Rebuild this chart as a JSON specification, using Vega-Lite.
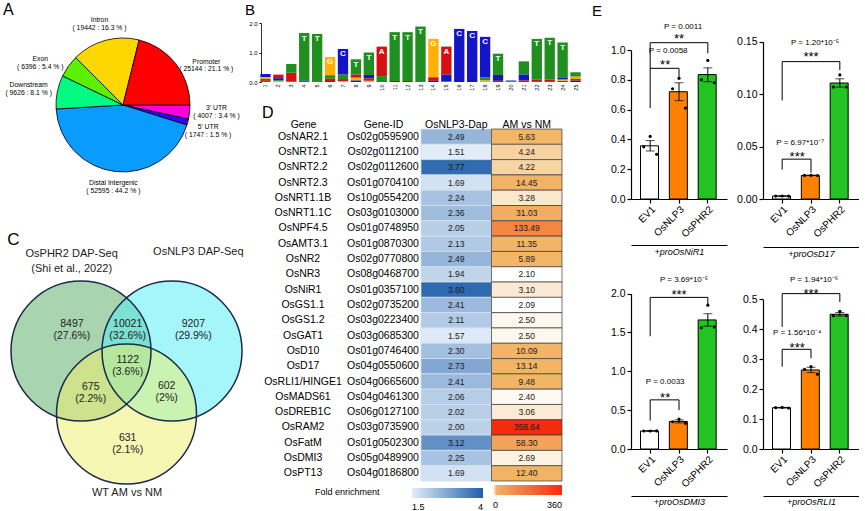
{
"$schema": "https://vega.github.io/schema/vega-lite/v6.json",
"padding": 0,
"background": "#ffffff",
"bounds": "flush",
"spacing": 0,
"resolve": {"scale": {"color": "independent", "fill": "independent"}},
"config": {
 "font": "Liberation Sans",
 "view": {"stroke": null},
 "axis": {"grid": false, "domainColor": "#000", "tickColor": "#000", "labelColor": "#000", "titleColor": "#000", "titleFontWeight": "normal"},
 "title": {"fontSize": 16, "fontWeight": "normal", "anchor": "start", "frame": "group", "color": "#000", "baseline": "top"},
 "text": {"color": "#000"},
 "legend": {"labelColor": "#000", "titleColor": "#000"}
},
"datasets": {
 "pie": [
  {"region": "3' UTR", "n": 4007, "o": 1, "lab": "3' UTR\n( 4007 : 3.4 % )"},
  {"region": "5' UTR", "n": 1747, "o": 2, "lab": "5' UTR\n( 1747 : 1.5 % )"},
  {"region": "Distal Intergenic", "n": 52595, "o": 3, "lab": "Distal Intergenic\n( 52595 : 44.2 % )"},
  {"region": "Downstream", "n": 9626, "o": 4, "lab": "Downstream\n( 9626 : 8.1 % )"},
  {"region": "Exon", "n": 6396, "o": 5, "lab": "Exon\n( 6396 : 5.4 % )"},
  {"region": "Intron", "n": 19442, "o": 6, "lab": "Intron\n( 19442 : 16.3 % )"},
  {"region": "Promoter", "n": 25144, "o": 7, "lab": "Promoter\n( 25144 : 21.1 % )"}
 ],
 "circ": [
  {"set": "PHR2", "cx": -0.65, "cy": 0.3},
  {"set": "NLP3", "cx": 0.65, "cy": 0.3},
  {"set": "AM", "cx": 0, "cy": -0.6}
 ],
 "vlab": [
  {"t": "8497\n(27.6%)", "x": -0.78, "y": 0.685},
  {"t": "10021\n(32.6%)", "x": 0.017, "y": 0.685},
  {"t": "9207\n(29.9%)", "x": 0.954, "y": 0.685},
  {"t": "1122\n(3.6%)", "x": 0.017, "y": 0.167},
  {"t": "675\n(2.2%)", "x": -0.511, "y": -0.21},
  {"t": "602\n(2%)", "x": 0.574, "y": -0.207},
  {"t": "631\n(2.1%)", "x": 0.017, "y": -0.936}
 ],
 "vtitle": [
  {"t": "OsPHR2 DAP-Seq\n(Shi et al., 2022)", "x": -0.783, "y": 1.683},
  {"t": "OsNLP3 DAP-Seq", "x": 1.026, "y": 1.719},
  {"t": "WT AM vs NM", "x": 0.007, "y": -1.729}
 ],
 "logo": [
  {"pos":1,"base":"A","bits":0.06},{"pos":1,"base":"C","bits":0.1},{"pos":1,"base":"G","bits":0.07},{"pos":1,"base":"T","bits":0.04},
  {"pos":2,"base":"A","bits":0.12},{"pos":2,"base":"C","bits":0.07},{"pos":2,"base":"G","bits":0.03},{"pos":2,"base":"T","bits":0.03},
  {"pos":3,"base":"A","bits":0.28},{"pos":3,"base":"T","bits":0.3},{"pos":3,"base":"C","bits":0.02},{"pos":3,"base":"G","bits":0.01},
  {"pos":4,"base":"T","bits":1.62},{"pos":4,"base":"C","bits":0.03},{"pos":4,"base":"A","bits":0.01},
  {"pos":5,"base":"T","bits":1.6},{"pos":5,"base":"C","bits":0.02},{"pos":5,"base":"A","bits":0.01},
  {"pos":6,"base":"G","bits":0.62},{"pos":6,"base":"T","bits":0.12},{"pos":6,"base":"A","bits":0.08},{"pos":6,"base":"C","bits":0.03},
  {"pos":7,"base":"C","bits":0.87},{"pos":7,"base":"T","bits":0.15},{"pos":7,"base":"A","bits":0.07},{"pos":7,"base":"G","bits":0.03},
  {"pos":8,"base":"T","bits":0.52},{"pos":8,"base":"G","bits":0.1},{"pos":8,"base":"A","bits":0.1},{"pos":8,"base":"C","bits":0.05},
  {"pos":9,"base":"T","bits":0.76},{"pos":9,"base":"C","bits":0.12},{"pos":9,"base":"A","bits":0.08},{"pos":9,"base":"G","bits":0.04},
  {"pos":10,"base":"A","bits":1.0},{"pos":10,"base":"T","bits":0.2},
  {"pos":11,"base":"T","bits":1.66},{"pos":11,"base":"C","bits":0.03},
  {"pos":12,"base":"T","bits":1.66},{"pos":12,"base":"C","bits":0.03},
  {"pos":13,"base":"T","bits":1.88},
  {"pos":14,"base":"G","bits":1.3},{"pos":14,"base":"A","bits":0.12},{"pos":14,"base":"C","bits":0.04},
  {"pos":15,"base":"A","bits":0.95},{"pos":15,"base":"C","bits":0.22},{"pos":15,"base":"T","bits":0.03},
  {"pos":16,"base":"C","bits":1.8},
  {"pos":17,"base":"C","bits":1.73},
  {"pos":18,"base":"C","bits":1.38},{"pos":18,"base":"T","bits":0.1},{"pos":18,"base":"G","bits":0.05},
  {"pos":19,"base":"T","bits":0.72},{"pos":19,"base":"C","bits":0.2},{"pos":19,"base":"A","bits":0.04},
  {"pos":20,"base":"C","bits":0.03},{"pos":20,"base":"A","bits":0.02},
  {"pos":21,"base":"T","bits":0.45},{"pos":21,"base":"C","bits":0.2},{"pos":21,"base":"A","bits":0.05},
  {"pos":22,"base":"T","bits":1.38},{"pos":22,"base":"A","bits":0.06},{"pos":22,"base":"C","bits":0.02},
  {"pos":23,"base":"T","bits":1.42},{"pos":23,"base":"A","bits":0.06},{"pos":23,"base":"C","bits":0.02},
  {"pos":24,"base":"T","bits":1.2},{"pos":24,"base":"C","bits":0.06},{"pos":24,"base":"A","bits":0.04},{"pos":24,"base":"G","bits":0.04},
  {"pos":25,"base":"T","bits":0.15},{"pos":25,"base":"G","bits":0.08},{"pos":25,"base":"C","bits":0.05},{"pos":25,"base":"A","bits":0.05}
 ],
 "genes": [
  {"gene":"OsNAR2.1","id":"Os02g0595900","dap":2.49,"am":5.63},
  {"gene":"OsNRT2.1","id":"Os02g0112100","dap":1.51,"am":4.24},
  {"gene":"OsNRT2.2","id":"Os02g0112600","dap":3.77,"am":4.22},
  {"gene":"OsNRT2.3","id":"Os01g0704100","dap":1.69,"am":14.45},
  {"gene":"OsNRT1.1B","id":"Os10g0554200","dap":2.24,"am":3.28},
  {"gene":"OsNRT1.1C","id":"Os03g0103000","dap":2.36,"am":31.03},
  {"gene":"OsNPF4.5","id":"Os01g0748950","dap":2.05,"am":133.49},
  {"gene":"OsAMT3.1","id":"Os01g0870300","dap":2.13,"am":11.35},
  {"gene":"OsNR2","id":"Os02g0770800","dap":2.49,"am":5.89},
  {"gene":"OsNR3","id":"Os08g0468700","dap":1.94,"am":2.10},
  {"gene":"OsNiR1","id":"Os01g0357100","dap":3.80,"am":3.10},
  {"gene":"OsGS1.1","id":"Os02g0735200","dap":2.41,"am":2.09},
  {"gene":"OsGS1.2","id":"Os03g0223400","dap":2.11,"am":2.50},
  {"gene":"OsGAT1","id":"Os03g0685300","dap":1.57,"am":2.50},
  {"gene":"OsD10","id":"Os01g0746400","dap":2.30,"am":10.09},
  {"gene":"OsD17","id":"Os04g0550600","dap":2.73,"am":13.14},
  {"gene":"OsRLI1/HINGE1","id":"Os04g0665600","dap":2.41,"am":9.48},
  {"gene":"OsMADS61","id":"Os04g0461300","dap":2.06,"am":2.40},
  {"gene":"OsDREB1C","id":"Os06g0127100","dap":2.02,"am":3.06},
  {"gene":"OsRAM2","id":"Os03g0735900","dap":2.00,"am":358.64},
  {"gene":"OsFatM","id":"Os01g0502300","dap":3.12,"am":58.30},
  {"gene":"OsDMI3","id":"Os05g0489900","dap":2.25,"am":2.69},
  {"gene":"OsPT13","id":"Os04g0186800","dap":1.69,"am":12.40}
 ],
 "bars": [
  {"p":"NiR1","g":"EV1","m":0.357,"lo":0.322,"hi":0.392},
  {"p":"NiR1","g":"OsNLP3","m":0.72,"lo":0.66,"hi":0.78},
  {"p":"NiR1","g":"OsPHR2","m":0.835,"lo":0.787,"hi":0.88},
  {"p":"D17","g":"EV1","m":0.0028,"lo":0.0026,"hi":0.003},
  {"p":"D17","g":"OsNLP3","m":0.0225,"lo":0.0223,"hi":0.0227},
  {"p":"D17","g":"OsPHR2","m":0.1106,"lo":0.1067,"hi":0.1146},
  {"p":"DMI3","g":"EV1","m":0.232,"lo":0.228,"hi":0.236},
  {"p":"DMI3","g":"OsNLP3","m":0.355,"lo":0.335,"hi":0.375},
  {"p":"DMI3","g":"OsPHR2","m":1.66,"lo":1.58,"hi":1.74},
  {"p":"RLI1","g":"EV1","m":0.138,"lo":0.137,"hi":0.139},
  {"p":"RLI1","g":"OsNLP3","m":0.264,"lo":0.255,"hi":0.273},
  {"p":"RLI1","g":"OsPHR2","m":0.45,"lo":0.444,"hi":0.456}
 ],
 "dots": [
  {"p":"NiR1","g":"EV1","r":1,"v":0.35},{"p":"NiR1","g":"EV1","r":2,"v":0.42},{"p":"NiR1","g":"EV1","r":3,"v":0.30},
  {"p":"NiR1","g":"OsNLP3","r":1,"v":0.74},{"p":"NiR1","g":"OsNLP3","r":2,"v":0.81},{"p":"NiR1","g":"OsNLP3","r":3,"v":0.61},
  {"p":"NiR1","g":"OsPHR2","r":1,"v":0.80},{"p":"NiR1","g":"OsPHR2","r":2,"v":0.93},{"p":"NiR1","g":"OsPHR2","r":3,"v":0.78},
  {"p":"D17","g":"EV1","r":1,"v":0.0028},{"p":"D17","g":"EV1","r":2,"v":0.0029},{"p":"D17","g":"EV1","r":3,"v":0.0027},
  {"p":"D17","g":"OsNLP3","r":1,"v":0.0225},{"p":"D17","g":"OsNLP3","r":2,"v":0.0226},{"p":"D17","g":"OsNLP3","r":3,"v":0.0224},
  {"p":"D17","g":"OsPHR2","r":1,"v":0.1067},{"p":"D17","g":"OsPHR2","r":2,"v":0.1183},{"p":"D17","g":"OsPHR2","r":3,"v":0.1068},
  {"p":"DMI3","g":"EV1","r":1,"v":0.232},{"p":"DMI3","g":"EV1","r":2,"v":0.231},{"p":"DMI3","g":"EV1","r":3,"v":0.233},
  {"p":"DMI3","g":"OsNLP3","r":1,"v":0.35},{"p":"DMI3","g":"OsNLP3","r":2,"v":0.385},{"p":"DMI3","g":"OsNLP3","r":3,"v":0.33},
  {"p":"DMI3","g":"OsPHR2","r":1,"v":1.56},{"p":"DMI3","g":"OsPHR2","r":2,"v":1.85},{"p":"DMI3","g":"OsPHR2","r":3,"v":1.57},
  {"p":"RLI1","g":"EV1","r":1,"v":0.138},{"p":"RLI1","g":"EV1","r":2,"v":0.139},{"p":"RLI1","g":"EV1","r":3,"v":0.137},
  {"p":"RLI1","g":"OsNLP3","r":1,"v":0.266},{"p":"RLI1","g":"OsNLP3","r":2,"v":0.275},{"p":"RLI1","g":"OsNLP3","r":3,"v":0.25},
  {"p":"RLI1","g":"OsPHR2","r":1,"v":0.445},{"p":"RLI1","g":"OsPHR2","r":2,"v":0.46},{"p":"RLI1","g":"OsPHR2","r":3,"v":0.445}
 ],
 "segs": [
  {"p":"NiR1","ga":"EV1","gb":"OsNLP3","ya":0.877,"yb":0.877},
  {"p":"NiR1","ga":"EV1","gb":"EV1","ya":1.049,"yb":0.61},
  {"p":"NiR1","ga":"OsNLP3","gb":"OsNLP3","ya":0.877,"yb":0.818},
  {"p":"NiR1","ga":"EV1","gb":"OsPHR2","ya":1.049,"yb":1.049},
  {"p":"NiR1","ga":"OsPHR2","gb":"OsPHR2","ya":1.049,"yb":0.978},
  {"p":"D17","ga":"EV1","gb":"OsNLP3","ya":0.038,"yb":0.038},
  {"p":"D17","ga":"EV1","gb":"EV1","ya":0.038,"yb":0.028},
  {"p":"D17","ga":"OsNLP3","gb":"OsNLP3","ya":0.038,"yb":0.025},
  {"p":"D17","ga":"EV1","gb":"OsPHR2","ya":0.131,"yb":0.131},
  {"p":"D17","ga":"EV1","gb":"EV1","ya":0.131,"yb":0.094},
  {"p":"D17","ga":"OsPHR2","gb":"OsPHR2","ya":0.131,"yb":0.123},
  {"p":"DMI3","ga":"EV1","gb":"OsNLP3","ya":0.632,"yb":0.632},
  {"p":"DMI3","ga":"EV1","gb":"EV1","ya":0.632,"yb":0.366},
  {"p":"DMI3","ga":"OsNLP3","gb":"OsNLP3","ya":0.632,"yb":0.5},
  {"p":"DMI3","ga":"EV1","gb":"OsPHR2","ya":1.95,"yb":1.95},
  {"p":"DMI3","ga":"EV1","gb":"EV1","ya":1.95,"yb":1.45},
  {"p":"DMI3","ga":"OsPHR2","gb":"OsPHR2","ya":1.95,"yb":1.85},
  {"p":"RLI1","ga":"EV1","gb":"OsNLP3","ya":0.333,"yb":0.333},
  {"p":"RLI1","ga":"EV1","gb":"EV1","ya":0.333,"yb":0.275},
  {"p":"RLI1","ga":"OsNLP3","gb":"OsNLP3","ya":0.333,"yb":0.303},
  {"p":"RLI1","ga":"EV1","gb":"OsPHR2","ya":0.519,"yb":0.519},
  {"p":"RLI1","ga":"EV1","gb":"EV1","ya":0.519,"yb":0.408},
  {"p":"RLI1","ga":"OsPHR2","gb":"OsPHR2","ya":0.519,"yb":0.491}
 ],
 "ann": [
  {"p":"NiR1","near":1,"at":"EV1","ys":0.92,"yp":0.99,"st":"**","pt":"P = 0.0058"},
  {"p":"NiR1","near":0,"at":"OsNLP3","ys":1.10,"yp":1.156,"st":"**","pt":"P = 0.0011"},
  {"p":"D17","near":1,"at":"EV1","ys":0.0431,"yp":0.0533,"st":"***","pt":"P = 6.97*10⁻⁷"},
  {"p":"D17","near":0,"at":"OsNLP3","ys":0.139,"yp":0.149,"st":"***","pt":"P = 1.20*10⁻⁵"},
  {"p":"DMI3","near":1,"at":"EV1","ys":0.70,"yp":0.86,"st":"**","pt":"P = 0.0033"},
  {"p":"DMI3","near":0,"at":"OsNLP3","ys":2.02,"yp":2.17,"st":"***","pt":"P = 3.69*10⁻⁵"},
  {"p":"RLI1","near":1,"at":"EV1","ys":0.35,"yp":0.386,"st":"***","pt":"P = 1.56*10⁻⁴"},
  {"p":"RLI1","near":0,"at":"OsNLP3","ys":0.53,"yp":0.566,"st":"***","pt":"P = 1.94*10⁻⁶"}
 ]
},
"hconcat": [
 {
  "width": 261, "height": 511,
  "title": {"text": "A", "dx": 3, "offset": -18},
  "layer": [
   {"data": {"name": "pie"},
    "encoding": {
     "theta": {"field": "n", "type": "quantitative", "stack": true, "scale": {"range": [1.5708, 7.854]}},
     "order": {"field": "o", "type": "quantitative"},
     "x": {"datum": -0.05, "type": "quantitative", "scale": {"domain": [-1.807, 1.921], "nice": false, "zero": false}, "axis": null},
     "y": {"datum": 3.814, "type": "quantitative", "scale": {"domain": [-1.986, 5.314], "nice": false, "zero": false}, "axis": null}
    },
    "layer": [
     {"mark": {"type": "arc", "outerRadius": 67, "stroke": "#000", "strokeWidth": 0.8},
      "encoding": {"color": {"field": "region", "type": "nominal", "legend": null,
       "scale": {"domain": ["3' UTR", "5' UTR", "Distal Intergenic", "Downstream", "Exon", "Intron", "Promoter"],
                 "range": ["#FF00DC", "#3300FF", "#0A9BFF", "#00FA82", "#5CF000", "#FFD700", "#FF0000"]}}}},
     {"mark": {"type": "text", "radius": 88, "fontSize": 6.8, "lineBreak": "\n", "lineHeight": 7.6, "color": "#000"},
      "encoding": {"text": {"condition": {"test": "datum.o == 2 || datum.o == 6", "field": "lab"}, "value": ""}}},
     {"mark": {"type": "text", "radius": 88, "dx": 6, "dy": -6, "fontSize": 6.8, "lineBreak": "\n", "lineHeight": 7.6, "color": "#000"},
      "encoding": {"text": {"condition": {"test": "datum.o == 1", "field": "lab"}, "value": ""}}},
     {"mark": {"type": "text", "radius": 79, "fontSize": 6.8, "lineBreak": "\n", "lineHeight": 7.6, "color": "#000"},
      "encoding": {"text": {"condition": {"test": "datum.o == 3", "field": "lab"}, "value": ""}}},
     {"mark": {"type": "text", "radius": 88, "dx": -8, "dy": -3, "fontSize": 6.8, "lineBreak": "\n", "lineHeight": 7.6, "color": "#000"},
      "encoding": {"text": {"condition": {"test": "datum.o == 4", "field": "lab"}, "value": ""}}},
     {"mark": {"type": "text", "radius": 88, "dx": -11, "dy": 5, "fontSize": 6.8, "lineBreak": "\n", "lineHeight": 7.6, "color": "#000"},
      "encoding": {"text": {"condition": {"test": "datum.o == 5", "field": "lab"}, "value": ""}}},
     {"mark": {"type": "text", "radius": 88, "dx": 14, "dy": 11, "fontSize": 6.8, "lineBreak": "\n", "lineHeight": 7.6, "color": "#000"},
      "encoding": {"text": {"condition": {"test": "datum.o == 7", "field": "lab"}, "value": ""}}}
    ]},
   {"data": {"name": "circ"},
    "mark": {"type": "point", "shape": "circle", "filled": true, "size": 19600, "opacity": 1, "fillOpacity": 0.5, "strokeWidth": 0},
    "encoding": {
     "x": {"field": "cx", "type": "quantitative"},
     "y": {"field": "cy", "type": "quantitative"},
     "fill": {"field": "set", "type": "nominal", "legend": null, "scale": {"domain": ["PHR2", "NLP3", "AM"], "range": ["#51AB61", "#4BEDF5", "#EFEF69"]}}
    }},
   {"data": {"name": "circ"},
    "mark": {"type": "point", "shape": "circle", "filled": false, "size": 19600, "opacity": 1, "stroke": "#1B2A4A", "strokeWidth": 1.5},
    "encoding": {"x": {"field": "cx", "type": "quantitative"}, "y": {"field": "cy", "type": "quantitative"}}},
   {"data": {"name": "vlab"},
    "mark": {"type": "text", "fontSize": 10.5, "lineBreak": "\n", "lineHeight": 12, "color": "#222"},
    "encoding": {"x": {"field": "x", "type": "quantitative"}, "y": {"field": "y", "type": "quantitative"}, "text": {"field": "t"}}},
   {"data": {"name": "vtitle"},
    "mark": {"type": "text", "fontSize": 11, "lineBreak": "\n", "lineHeight": 15, "color": "#222"},
    "encoding": {"x": {"field": "x", "type": "quantitative"}, "y": {"field": "y", "type": "quantitative"}, "text": {"field": "t"}}},
   {"data": {"values": [{"t": "C", "x": -1.617, "y": 1.886}]},
    "mark": {"type": "text", "fontSize": 17, "baseline": "middle", "color": "#000"},
    "encoding": {"x": {"field": "x", "type": "quantitative"}, "y": {"field": "y", "type": "quantitative"}, "text": {"field": "t"}}}
  ]
 },
 {
  "width": 84, "height": 511,
  "title": {"text": "B", "dx": -16, "offset": -18, "fontSize": 15},
  "layer": [
   {"data": {"name": "logo"},
    "transform": [{"stack": "bits", "groupby": ["pos"], "sort": [{"field": "bits", "order": "ascending"}], "as": ["b0", "b1"]}],
    "layer": [
     {"mark": {"type": "bar", "width": {"band": 0.8}},
      "encoding": {
       "x": {"field": "pos", "type": "ordinal", "title": null, "scale": {"type": "band", "range": [-2, 321], "paddingInner": 0, "paddingOuter": 0},
             "axis": {"orient": "bottom", "labelAngle": -90, "labelFontSize": 5.5, "domain": false, "ticks": false, "labelPadding": 2, "offset": -429}},
       "y": {"field": "b0", "type": "quantitative", "scale": {"domain": [0, 2], "range": [82, 23], "nice": false},
             "axis": {"orient": "left", "values": [0, 1, 2], "title": "bits", "titleFontSize": 5.5, "labelFontSize": 6, "tickSize": 2, "domainWidth": 0.8, "titlePadding": 2}},
       "y2": {"field": "b1"},
       "color": {"field": "base", "type": "nominal", "legend": null, "scale": {"domain": ["A", "C", "G", "T"], "range": ["#D41010", "#1414C8", "#FFB000", "#1F8F1F"]}}
      }},
     {"transform": [{"filter": "datum.bits > 0.45"}],
      "mark": {"type": "text", "fontSize": 8, "fontWeight": "bold", "color": "#ffffff", "baseline": "top", "dy": 1.5},
      "encoding": {
       "x": {"field": "pos", "type": "ordinal", "title": null},
       "y": {"field": "b1", "type": "quantitative", "title": null},
       "text": {"field": "base"}
      }}
    ]},
   {"data": {"name": "genes"},
    "mark": {"type": "text", "fontSize": 10.5, "color": "#000"},
    "encoding": {
     "y": {"field": "gene", "type": "nominal", "sort": null, "axis": null, "scale": {"range": [129, 481]}},
     "x": {"datum": "Gene", "type": "nominal", "axis": {"orient": "top", "offset": -129, "title": null, "ticks": false, "tickSize": 0, "domain": false, "labelFontSize": 10.5, "labelAngle": 0, "labelPadding": 0}},
     "text": {"field": "gene"}
    }}
  ],
  "resolve": {"scale": {"x": "independent", "y": "independent"}}
 },
 {
  "width": 76, "height": 511,
  "title": {"text": "D", "dx": -83, "offset": -121},
  "data": {"name": "genes"},
  "mark": {"type": "text", "fontSize": 10.5, "color": "#000"},
  "encoding": {
   "y": {"field": "gene", "type": "nominal", "sort": null, "axis": null, "scale": {"range": [129, 481]}},
   "x": {"datum": "Gene-ID", "type": "nominal", "axis": {"orient": "top", "offset": -129, "title": null, "ticks": false, "tickSize": 0, "domain": false, "labelFontSize": 10.5, "labelAngle": 0, "labelPadding": 0}},
   "text": {"field": "id"}
  }
 },
 {
  "width": 141, "height": 511,
  "data": {"name": "genes"},
  "layer": [
   {"mark": {"type": "rect", "stroke": "#D6E0EC", "strokeWidth": 0.8},
    "encoding": {
     "x": {"datum": "OsNLP3-Dap", "type": "nominal", "scale": {"type": "band", "domain": ["OsNLP3-Dap", "AM vs NM"], "paddingInner": 0, "paddingOuter": 0},
           "axis": {"orient": "top", "offset": -129, "title": null, "ticks": false, "tickSize": 0, "domain": false, "labelFontSize": 10.5, "labelAngle": 0, "labelPadding": 0}},
     "y": {"field": "gene", "type": "nominal", "sort": null, "axis": null, "scale": {"type": "band", "range": [129, 481], "paddingInner": 0, "paddingOuter": 0}},
     "color": {"field": "dap", "type": "quantitative", "scale": {"domain": [1.5, 4], "range": ["#E2EDF8", "#1F5FAA"], "interpolate": "rgb"},
      "legend": {"orient": "none", "legendX": -106, "legendY": 488, "direction": "horizontal", "title": "Fold enrichment", "titleOrient": "left",
                 "titleFontSize": 9, "titleFontWeight": "normal", "titlePadding": 32, "titleAnchor": "start", "titleBaseline": "top",
                 "gradientLength": 71, "gradientThickness": 10, "gradientStrokeWidth": 0,
                 "values": [1.5, 4], "labelExpr": "datum.value > 3 ? '4' : '1.5'", "labelFontSize": 9, "labelAlign": "center", "labelOffset": 5}}
    }},
   {"mark": {"type": "text", "fontSize": 8.5, "color": "#1a1a1a"},
    "encoding": {
     "x": {"datum": "OsNLP3-Dap", "type": "nominal"},
     "y": {"field": "gene", "type": "nominal", "sort": null},
     "text": {"field": "dap", "type": "quantitative", "format": ".2f"}
    }},
   {"mark": {"type": "rect", "stroke": "#3A3A3A", "strokeWidth": 0.7},
    "encoding": {
     "x": {"datum": "AM vs NM", "type": "nominal"},
     "y": {"field": "gene", "type": "nominal", "sort": null},
     "color": {"field": "am", "type": "quantitative", "scale": {"domain": [2.09, 5.63, 358.64], "range": ["#FFFFFF", "#F2B766", "#F52C0C"], "interpolate": "rgb"},
      "legend": {"orient": "none", "legendX": 72, "legendY": 485, "direction": "horizontal", "title": null,
                 "gradientLength": 69, "gradientThickness": 10, "gradientStrokeWidth": 0,
                 "values": [2.09, 358.64], "labelExpr": "datum.value < 100 ? '0' : '360'", "labelFontSize": 9, "labelAlign": "center", "labelOffset": 6}}
    }},
   {"mark": {"type": "text", "fontSize": 8.5, "color": "#1a1a1a"},
    "encoding": {
     "x": {"datum": "AM vs NM", "type": "nominal"},
     "y": {"field": "gene", "type": "nominal", "sort": null},
     "text": {"field": "am", "type": "quantitative", "format": ".2f"}
    }}
  ],
  "resolve": {"scale": {"color": "independent"}}
 },
 {
  "width": 201, "height": 511,
  "title": {"text": "E", "dx": 30, "offset": -19, "fontSize": 15},
  "layer": [
   {"layer": [
    {"layer": [
     {"data": {"name": "bars"}, "transform": [{"filter": "datum.p == 'NiR1'"}],
      "mark": {"type": "bar", "stroke": "#000", "strokeWidth": 1},
      "encoding": {
       "x": {"field": "g", "type": "nominal", "title": null, "scale": {"domain": ["EV1", "OsNLP3", "OsPHR2"], "range": [69, 165], "paddingInner": 0.33, "paddingOuter": 0.33},
             "axis": {"orient": "bottom", "offset": -312, "labelAngle": -45, "labelFontSize": 10, "tickSize": 4, "domainWidth": 1.2, "tickWidth": 1.2, "labelPadding": 1}},
       "y": {"field": "m", "type": "quantitative", "scale": {"domain": [0, 1], "range": [199, 50], "nice": false},
             "axis": {"orient": "left", "offset": -69, "values": [0, 0.2, 0.4, 0.6, 0.8, 1], "format": ".1f", "title": "LUC/REN ratio", "titleFontSize": 11, "labelFontSize": 10.5, "tickSize": 4, "domainWidth": 1.2, "tickWidth": 1.2, "titlePadding": 5}},
       "fill": {"field": "g", "type": "nominal", "legend": null, "scale": {"domain": ["EV1", "OsNLP3", "OsPHR2"], "range": ["#FFFFFF", "#FF8000", "#22C322"]}}
      }},
     {"data": {"name": "bars"}, "transform": [{"filter": "datum.p == 'NiR1'"}],
      "mark": {"type": "rule", "color": "#000", "strokeWidth": 1},
      "encoding": {"x": {"field": "g", "type": "nominal", "title": null}, "y": {"field": "lo", "type": "quantitative", "title": null}, "y2": {"field": "hi"}}},
     {"data": {"name": "bars"}, "transform": [{"filter": "datum.p == 'NiR1'"}, {"fold": ["lo", "hi"], "as": ["k", "v"]}],
      "mark": {"type": "tick", "color": "#000", "size": 9, "thickness": 1},
      "encoding": {"x": {"field": "g", "type": "nominal", "title": null}, "y": {"field": "v", "type": "quantitative", "title": null}}},
     {"data": {"name": "dots"}, "transform": [{"filter": "datum.p == 'NiR1'"}],
      "mark": {"type": "circle", "size": 10, "color": "#000", "opacity": 1},
      "encoding": {"x": {"field": "g", "type": "nominal", "title": null}, "xOffset": {"field": "r", "type": "nominal"}, "y": {"field": "v", "type": "quantitative", "title": null}}},
     {"data": {"name": "segs"}, "transform": [{"filter": "datum.p == 'NiR1'"}],
      "mark": {"type": "rule", "color": "#000", "strokeWidth": 1},
      "encoding": {"x": {"field": "ga", "type": "nominal", "title": null}, "x2": {"field": "gb"}, "y": {"field": "ya", "type": "quantitative", "title": null}, "y2": {"field": "yb"}}},
     {"data": {"name": "ann"}, "transform": [{"filter": "datum.p == 'NiR1' && datum.near == 1"}],
      "mark": {"type": "text", "fontSize": 13, "baseline": "alphabetic", "dx": 15, "dy": 7.4},
      "encoding": {"x": {"field": "at", "type": "nominal", "title": null}, "y": {"field": "ys", "type": "quantitative", "title": null}, "text": {"field": "st"}}},
     {"data": {"name": "ann"}, "transform": [{"filter": "datum.p == 'NiR1' && datum.near == 0"}],
      "mark": {"type": "text", "fontSize": 13, "baseline": "alphabetic", "dx": 0, "dy": 7.4},
      "encoding": {"x": {"field": "at", "type": "nominal", "title": null}, "y": {"field": "ys", "type": "quantitative", "title": null}, "text": {"field": "st"}}},
     {"data": {"name": "ann"}, "transform": [{"filter": "datum.p == 'NiR1' && datum.near == 1"}],
      "mark": {"type": "text", "fontSize": 8, "baseline": "middle", "dx": 18},
      "encoding": {"x": {"field": "at", "type": "nominal", "title": null}, "y": {"field": "yp", "type": "quantitative", "title": null}, "text": {"field": "pt"}}},
     {"data": {"name": "ann"}, "transform": [{"filter": "datum.p == 'NiR1' && datum.near == 0"}],
      "mark": {"type": "text", "fontSize": 8, "baseline": "middle", "dx": 4},
      "encoding": {"x": {"field": "at", "type": "nominal", "title": null}, "y": {"field": "yp", "type": "quantitative", "title": null}, "text": {"field": "pt"}}}
    ]},
    {"data": {"values": [{"u": "u"}]}, "mark": {"type": "rule", "opacity": 0},
     "encoding": {"x": {"field": "u", "type": "nominal", "scale": {"range": [69, 165]}, "axis": {"orient": "bottom", "offset": -266, "labels": false, "ticks": false, "domain": true, "domainWidth": 1, "title": "+proOsNiR1", "titleFontStyle": "italic", "titleFontSize": 9, "titlePadding": 2}}}}
   ], "resolve": {"scale": {"x": "independent"}}},
   {"layer": [
    {"layer": [
     {"data": {"name": "bars"}, "transform": [{"filter": "datum.p == 'DMI3'"}],
      "mark": {"type": "bar", "stroke": "#000", "strokeWidth": 1},
      "encoding": {
       "x": {"field": "g", "type": "nominal", "title": null, "scale": {"domain": ["EV1", "OsNLP3", "OsPHR2"], "range": [69, 165], "paddingInner": 0.33, "paddingOuter": 0.33},
             "axis": {"orient": "bottom", "offset": -62, "labelAngle": -45, "labelFontSize": 10, "tickSize": 4, "domainWidth": 1.2, "tickWidth": 1.2, "labelPadding": 1}},
       "y": {"field": "m", "type": "quantitative", "scale": {"domain": [0, 2], "range": [449, 293.5], "nice": false},
             "axis": {"orient": "left", "offset": -69, "values": [0, 0.5, 1, 1.5, 2], "format": ".1f", "title": "LUC/REN ratio", "titleFontSize": 11, "labelFontSize": 10.5, "tickSize": 4, "domainWidth": 1.2, "tickWidth": 1.2, "titlePadding": 5}},
       "fill": {"field": "g", "type": "nominal", "legend": null, "scale": {"domain": ["EV1", "OsNLP3", "OsPHR2"], "range": ["#FFFFFF", "#FF8000", "#22C322"]}}
      }},
     {"data": {"name": "bars"}, "transform": [{"filter": "datum.p == 'DMI3'"}],
      "mark": {"type": "rule", "color": "#000", "strokeWidth": 1},
      "encoding": {"x": {"field": "g", "type": "nominal", "title": null}, "y": {"field": "lo", "type": "quantitative", "title": null}, "y2": {"field": "hi"}}},
     {"data": {"name": "bars"}, "transform": [{"filter": "datum.p == 'DMI3'"}, {"fold": ["lo", "hi"], "as": ["k", "v"]}],
      "mark": {"type": "tick", "color": "#000", "size": 9, "thickness": 1},
      "encoding": {"x": {"field": "g", "type": "nominal", "title": null}, "y": {"field": "v", "type": "quantitative", "title": null}}},
     {"data": {"name": "dots"}, "transform": [{"filter": "datum.p == 'DMI3'"}],
      "mark": {"type": "circle", "size": 10, "color": "#000", "opacity": 1},
      "encoding": {"x": {"field": "g", "type": "nominal", "title": null}, "xOffset": {"field": "r", "type": "nominal"}, "y": {"field": "v", "type": "quantitative", "title": null}}},
     {"data": {"name": "segs"}, "transform": [{"filter": "datum.p == 'DMI3'"}],
      "mark": {"type": "rule", "color": "#000", "strokeWidth": 1},
      "encoding": {"x": {"field": "ga", "type": "nominal", "title": null}, "x2": {"field": "gb"}, "y": {"field": "ya", "type": "quantitative", "title": null}, "y2": {"field": "yb"}}},
     {"data": {"name": "ann"}, "transform": [{"filter": "datum.p == 'DMI3' && datum.near == 1"}],
      "mark": {"type": "text", "fontSize": 13, "baseline": "alphabetic", "dx": 15, "dy": 7.4},
      "encoding": {"x": {"field": "at", "type": "nominal", "title": null}, "y": {"field": "ys", "type": "quantitative", "title": null}, "text": {"field": "st"}}},
     {"data": {"name": "ann"}, "transform": [{"filter": "datum.p == 'DMI3' && datum.near == 0"}],
      "mark": {"type": "text", "fontSize": 13, "baseline": "alphabetic", "dx": 0, "dy": 7.4},
      "encoding": {"x": {"field": "at", "type": "nominal", "title": null}, "y": {"field": "ys", "type": "quantitative", "title": null}, "text": {"field": "st"}}},
     {"data": {"name": "ann"}, "transform": [{"filter": "datum.p == 'DMI3' && datum.near == 1"}],
      "mark": {"type": "text", "fontSize": 8, "baseline": "middle", "dx": 15},
      "encoding": {"x": {"field": "at", "type": "nominal", "title": null}, "y": {"field": "yp", "type": "quantitative", "title": null}, "text": {"field": "pt"}}},
     {"data": {"name": "ann"}, "transform": [{"filter": "datum.p == 'DMI3' && datum.near == 0"}],
      "mark": {"type": "text", "fontSize": 8, "baseline": "middle", "dx": 5},
      "encoding": {"x": {"field": "at", "type": "nominal", "title": null}, "y": {"field": "yp", "type": "quantitative", "title": null}, "text": {"field": "pt"}}}
    ]},
    {"data": {"values": [{"u": "u"}]}, "mark": {"type": "rule", "opacity": 0},
     "encoding": {"x": {"field": "u", "type": "nominal", "scale": {"range": [69, 165]}, "axis": {"orient": "bottom", "offset": -15, "labels": false, "ticks": false, "domain": true, "domainWidth": 1, "title": "+proOsDMI3", "titleFontStyle": "italic", "titleFontSize": 9, "titlePadding": 1}}}}
   ], "resolve": {"scale": {"x": "independent"}}}
  ],
  "resolve": {"scale": {"x": "independent", "y": "independent", "xOffset": "independent"}}
 },
 {
  "width": 96, "height": 511,
  "layer": [
   {"layer": [
    {"layer": [
     {"data": {"name": "bars"}, "transform": [{"filter": "datum.p == 'D17'"}],
      "mark": {"type": "bar", "stroke": "#000", "strokeWidth": 1},
      "encoding": {
       "x": {"field": "g", "type": "nominal", "title": null, "scale": {"domain": ["EV1", "OsNLP3", "OsPHR2"], "range": [0, 96], "paddingInner": 0.33, "paddingOuter": 0.33},
             "axis": {"orient": "bottom", "offset": -312, "labelAngle": -45, "labelFontSize": 10, "tickSize": 4, "domainWidth": 1.2, "tickWidth": 1.2, "labelPadding": 1}},
       "y": {"field": "m", "type": "quantitative", "scale": {"domain": [0, 0.15], "range": [199, 41.7], "nice": false},
             "axis": {"orient": "left", "values": [0, 0.05, 0.1, 0.15], "format": ".2f", "title": null, "labelFontSize": 10.5, "tickSize": 4, "domainWidth": 1.2, "tickWidth": 1.2}},
       "fill": {"field": "g", "type": "nominal", "legend": null, "scale": {"domain": ["EV1", "OsNLP3", "OsPHR2"], "range": ["#FFFFFF", "#FF8000", "#22C322"]}}
      }},
     {"data": {"name": "bars"}, "transform": [{"filter": "datum.p == 'D17'"}],
      "mark": {"type": "rule", "color": "#000", "strokeWidth": 1},
      "encoding": {"x": {"field": "g", "type": "nominal", "title": null}, "y": {"field": "lo", "type": "quantitative", "title": null}, "y2": {"field": "hi"}}},
     {"data": {"name": "bars"}, "transform": [{"filter": "datum.p == 'D17'"}, {"fold": ["lo", "hi"], "as": ["k", "v"]}],
      "mark": {"type": "tick", "color": "#000", "size": 9, "thickness": 1},
      "encoding": {"x": {"field": "g", "type": "nominal", "title": null}, "y": {"field": "v", "type": "quantitative", "title": null}}},
     {"data": {"name": "dots"}, "transform": [{"filter": "datum.p == 'D17'"}],
      "mark": {"type": "circle", "size": 10, "color": "#000", "opacity": 1},
      "encoding": {"x": {"field": "g", "type": "nominal", "title": null}, "xOffset": {"field": "r", "type": "nominal"}, "y": {"field": "v", "type": "quantitative", "title": null}}},
     {"data": {"name": "segs"}, "transform": [{"filter": "datum.p == 'D17'"}],
      "mark": {"type": "rule", "color": "#000", "strokeWidth": 1},
      "encoding": {"x": {"field": "ga", "type": "nominal", "title": null}, "x2": {"field": "gb"}, "y": {"field": "ya", "type": "quantitative", "title": null}, "y2": {"field": "yb"}}},
     {"data": {"name": "ann"}, "transform": [{"filter": "datum.p == 'D17' && datum.near == 1"}],
      "mark": {"type": "text", "fontSize": 13, "baseline": "alphabetic", "dx": 15, "dy": 7.4},
      "encoding": {"x": {"field": "at", "type": "nominal", "title": null}, "y": {"field": "ys", "type": "quantitative", "title": null}, "text": {"field": "st"}}},
     {"data": {"name": "ann"}, "transform": [{"filter": "datum.p == 'D17' && datum.near == 0"}],
      "mark": {"type": "text", "fontSize": 13, "baseline": "alphabetic", "dx": 0, "dy": 7.4},
      "encoding": {"x": {"field": "at", "type": "nominal", "title": null}, "y": {"field": "ys", "type": "quantitative", "title": null}, "text": {"field": "st"}}},
     {"data": {"name": "ann"}, "transform": [{"filter": "datum.p == 'D17' && datum.near == 1"}],
      "mark": {"type": "text", "fontSize": 8, "baseline": "middle", "dx": 18},
      "encoding": {"x": {"field": "at", "type": "nominal", "title": null}, "y": {"field": "yp", "type": "quantitative", "title": null}, "text": {"field": "pt"}}},
     {"data": {"name": "ann"}, "transform": [{"filter": "datum.p == 'D17' && datum.near == 0"}],
      "mark": {"type": "text", "fontSize": 8, "baseline": "middle", "dx": 4},
      "encoding": {"x": {"field": "at", "type": "nominal", "title": null}, "y": {"field": "yp", "type": "quantitative", "title": null}, "text": {"field": "pt"}}}
    ]},
    {"data": {"values": [{"u": "u"}]}, "mark": {"type": "rule", "opacity": 0},
     "encoding": {"x": {"field": "u", "type": "nominal", "scale": {"range": [0, 96]}, "axis": {"orient": "bottom", "offset": -264, "labels": false, "ticks": false, "domain": true, "domainWidth": 1, "title": "+proOsD17", "titleFontStyle": "italic", "titleFontSize": 9, "titlePadding": 2}}}}
   ], "resolve": {"scale": {"x": "independent"}}},
   {"layer": [
    {"layer": [
     {"data": {"name": "bars"}, "transform": [{"filter": "datum.p == 'RLI1'"}],
      "mark": {"type": "bar", "stroke": "#000", "strokeWidth": 1},
      "encoding": {
       "x": {"field": "g", "type": "nominal", "title": null, "scale": {"domain": ["EV1", "OsNLP3", "OsPHR2"], "range": [0, 96], "paddingInner": 0.33, "paddingOuter": 0.33},
             "axis": {"orient": "bottom", "offset": -62, "labelAngle": -45, "labelFontSize": 10, "tickSize": 4, "domainWidth": 1.2, "tickWidth": 1.2, "labelPadding": 1}},
       "y": {"field": "m", "type": "quantitative", "scale": {"domain": [0, 0.5], "range": [449, 299.3], "nice": false},
             "axis": {"orient": "left", "values": [0, 0.1, 0.2, 0.3, 0.4, 0.5], "format": ".1f", "title": null, "labelFontSize": 10.5, "tickSize": 4, "domainWidth": 1.2, "tickWidth": 1.2}},
       "fill": {"field": "g", "type": "nominal", "legend": null, "scale": {"domain": ["EV1", "OsNLP3", "OsPHR2"], "range": ["#FFFFFF", "#FF8000", "#22C322"]}}
      }},
     {"data": {"name": "bars"}, "transform": [{"filter": "datum.p == 'RLI1'"}],
      "mark": {"type": "rule", "color": "#000", "strokeWidth": 1},
      "encoding": {"x": {"field": "g", "type": "nominal", "title": null}, "y": {"field": "lo", "type": "quantitative", "title": null}, "y2": {"field": "hi"}}},
     {"data": {"name": "bars"}, "transform": [{"filter": "datum.p == 'RLI1'"}, {"fold": ["lo", "hi"], "as": ["k", "v"]}],
      "mark": {"type": "tick", "color": "#000", "size": 9, "thickness": 1},
      "encoding": {"x": {"field": "g", "type": "nominal", "title": null}, "y": {"field": "v", "type": "quantitative", "title": null}}},
     {"data": {"name": "dots"}, "transform": [{"filter": "datum.p == 'RLI1'"}],
      "mark": {"type": "circle", "size": 10, "color": "#000", "opacity": 1},
      "encoding": {"x": {"field": "g", "type": "nominal", "title": null}, "xOffset": {"field": "r", "type": "nominal"}, "y": {"field": "v", "type": "quantitative", "title": null}}},
     {"data": {"name": "segs"}, "transform": [{"filter": "datum.p == 'RLI1'"}],
      "mark": {"type": "rule", "color": "#000", "strokeWidth": 1},
      "encoding": {"x": {"field": "ga", "type": "nominal", "title": null}, "x2": {"field": "gb"}, "y": {"field": "ya", "type": "quantitative", "title": null}, "y2": {"field": "yb"}}},
     {"data": {"name": "ann"}, "transform": [{"filter": "datum.p == 'RLI1' && datum.near == 1"}],
      "mark": {"type": "text", "fontSize": 13, "baseline": "alphabetic", "dx": 15, "dy": 7.4},
      "encoding": {"x": {"field": "at", "type": "nominal", "title": null}, "y": {"field": "ys", "type": "quantitative", "title": null}, "text": {"field": "st"}}},
     {"data": {"name": "ann"}, "transform": [{"filter": "datum.p == 'RLI1' && datum.near == 0"}],
      "mark": {"type": "text", "fontSize": 13, "baseline": "alphabetic", "dx": 0, "dy": 7.4},
      "encoding": {"x": {"field": "at", "type": "nominal", "title": null}, "y": {"field": "ys", "type": "quantitative", "title": null}, "text": {"field": "st"}}},
     {"data": {"name": "ann"}, "transform": [{"filter": "datum.p == 'RLI1' && datum.near == 1"}],
      "mark": {"type": "text", "fontSize": 8, "baseline": "middle", "dx": 15},
      "encoding": {"x": {"field": "at", "type": "nominal", "title": null}, "y": {"field": "yp", "type": "quantitative", "title": null}, "text": {"field": "pt"}}},
     {"data": {"name": "ann"}, "transform": [{"filter": "datum.p == 'RLI1' && datum.near == 0"}],
      "mark": {"type": "text", "fontSize": 8, "baseline": "middle", "dx": 3},
      "encoding": {"x": {"field": "at", "type": "nominal", "title": null}, "y": {"field": "yp", "type": "quantitative", "title": null}, "text": {"field": "pt"}}}
    ]},
    {"data": {"values": [{"u": "u"}]}, "mark": {"type": "rule", "opacity": 0},
     "encoding": {"x": {"field": "u", "type": "nominal", "scale": {"range": [0, 96]}, "axis": {"orient": "bottom", "offset": -15, "labels": false, "ticks": false, "domain": true, "domainWidth": 1, "title": "+proOsRLI1", "titleFontStyle": "italic", "titleFontSize": 9, "titlePadding": 1}}}}
   ], "resolve": {"scale": {"x": "independent"}}}
  ],
  "resolve": {"scale": {"x": "independent", "y": "independent", "xOffset": "independent"}}
 }
]
}
